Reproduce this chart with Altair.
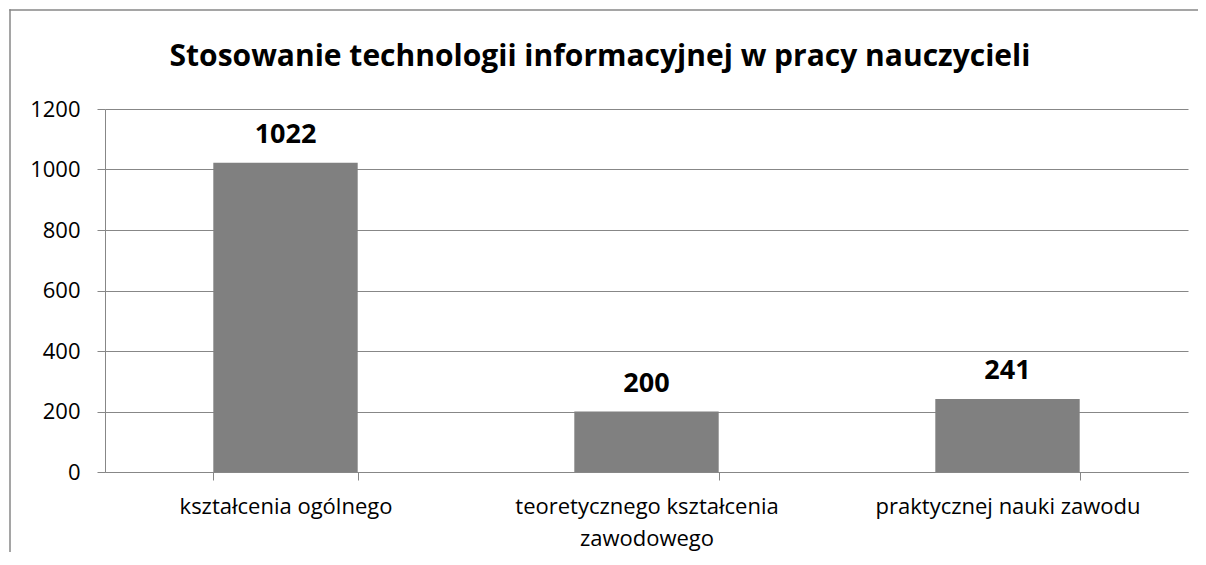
import altair as alt
import pandas as pd

categories = ["kształcenia ogólnego", "teoretycznego kształcenia zawodowego", "praktycznej nauki zawodu"]
values = [1022, 200, 241]
y_ticks = [0, 200, 400, 600, 800, 1000, 1200]
title_text = "Stosowanie technologii informacyjnej w pracy nauczycieli"

df = pd.DataFrame({"kategoria": categories, "liczba": values})

FONT = "Open Sans"
GRAY = "#878787"

x_enc = alt.X(
    "kategoria:N",
    sort=categories,
    scale=alt.Scale(paddingInner=0.6, paddingOuter=0.3),
    axis=alt.Axis(
        title=None,
        labelAngle=0,
        labelFont=FONT,
        labelFontSize=22,
        labelColor="black",
        labelPadding=16,
        labelLineHeight=32,
        labelBaseline="top",
        labelLimit=400,
        labelExpr="datum.label == 'teoretycznego kształcenia zawodowego' ? ['teoretycznego kształcenia', 'zawodowego'] : datum.label",
        tickBand="extent",
        tickSize=8,
        tickColor=GRAY,
        domainColor=GRAY,
        grid=False,
    ),
)

y_enc = alt.Y(
    "liczba:Q",
    scale=alt.Scale(domain=[0, 1200], nice=False),
    axis=alt.Axis(
        title=None,
        values=y_ticks,
        format="d",
        labelFont=FONT,
        labelFontSize=22,
        labelColor="black",
        labelPadding=17,
        tickSize=8,
        tickColor=GRAY,
        domainColor=GRAY,
        gridColor=GRAY,
        grid=True,
    ),
)

bars = alt.Chart(df).mark_bar(color="#808080").encode(x=x_enc, y=y_enc)

labels = alt.Chart(df).mark_text(
    font=FONT, fontSize=27, fontWeight="bold", color="black", dy=-20, baseline="alphabetic"
).encode(x=alt.X("kategoria:N", sort=categories), y="liczba:Q", text="liczba:Q")

title_df = pd.DataFrame({"t": [title_text]})
title = alt.Chart(title_df).mark_text(
    font=FONT, fontSize=30, fontWeight="bold", color="black", align="center", baseline="alphabetic"
).encode(x=alt.value(495), y=alt.value(-43), text="t:N")

border_top = alt.Chart(title_df).mark_rect(color=GRAY).encode(
    x=alt.value(-95.75), x2=alt.value(1100), y=alt.value(-99.75), y2=alt.value(-98.25)
)

border_df = pd.DataFrame({"b": [0]})
border_left = alt.Chart(border_df).mark_rule(color=GRAY, strokeWidth=1.5).encode(
    x=alt.value(-95), y=alt.value(-99.75), y2=alt.value(448)
)

chart = alt.layer(border_top, border_left, bars, labels, title).properties(
    width=1083,
    height=363,
    padding={"left": 97, "top": 101, "right": 10, "bottom": 80},
    autosize=alt.AutoSizeParams(type="none"),
).configure_view(stroke=None)

chart.save("out.html", embed_options={"renderer": "svg", "actions": False})
